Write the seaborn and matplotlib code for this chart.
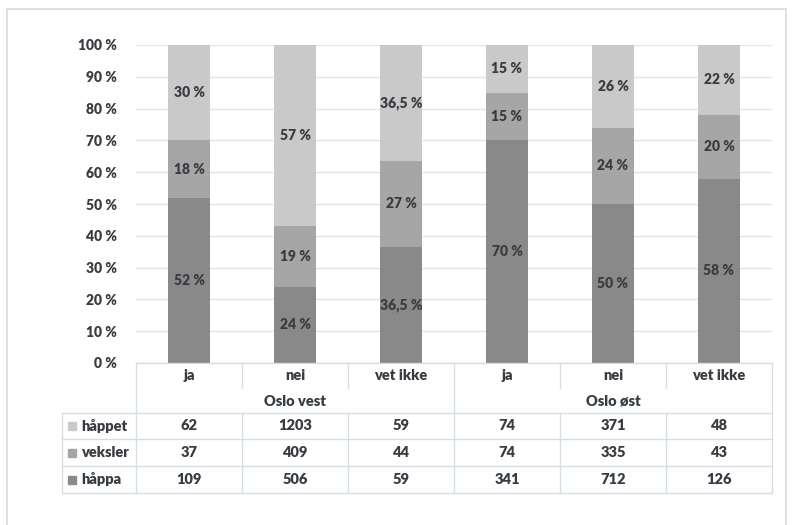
import matplotlib
matplotlib.use("Agg")
import matplotlib.pyplot as plt
import seaborn as sns
import pandas as pd
from matplotlib.patches import Rectangle
from matplotlib.lines import Line2D

# data
groups = ["Oslo vest", "Oslo øst"]
answers = ["ja", "nei", "vet ikke"]
series = ["håppet", "veksler", "håppa"]  # top -> bottom

# percent shares per bar (Oslo vest ja, nei, vet ikke, Oslo øst ja, nei, vet ikke)
pct_happa = [52, 24, 36.5, 70, 50, 58]
pct_veksler = [18, 19, 27, 15, 24, 20]
pct_happet = [30, 57, 36.5, 15, 26, 22]

lbl_happa = ["52 %", "24 %", "36,5 %", "70 %", "50 %", "58 %"]
lbl_veksler = ["18 %", "19 %", "27 %", "15 %", "24 %", "20 %"]
lbl_happet = ["30 %", "57 %", "36,5 %", "15 %", "26 %", "22 %"]

# counts in the data table
n_happet = [62, 1203, 59, 74, 371, 48]
n_veksler = [37, 409, 44, 74, 335, 43]
n_happa = [109, 506, 59, 341, 712, 126]

colors = {"håppa": "#898989", "veksler": "#a6a6a6", "håppet": "#c9c9c9"}
text_col = "#383c41"
line_col = "#d3dee6"
WEIGHT = "heavy"

W, H = 793, 525
sns.set_theme(style="white")
plt.rcParams["font.family"] = ["Lato", "DejaVu Sans"]

fig = plt.figure(figsize=(W / 100, H / 100), dpi=100)

# plot area in pixel coords
x0, x1, ytop, ybot = 136, 772, 45, 363
ax = fig.add_axes([x0 / W, 1 - ybot / H, (x1 - x0) / W, (ybot - ytop) / H])

keys = [f"{g}|{a}" for g in groups for a in answers]
df = pd.DataFrame({
    "key": keys,
    "happa": pct_happa,
    "veksler": pct_veksler,
    "happet": pct_happet,
})
df["lvl2"] = df["happa"] + df["veksler"]
df["lvl3"] = df["lvl2"] + df["happet"]

for col, c in [("lvl3", colors["håppet"]), ("lvl2", colors["veksler"]), ("happa", colors["håppa"])]:
    sns.barplot(data=df, x="key", y=col, order=keys, color=c, width=0.4,
                saturation=1, linewidth=0, ax=ax, zorder=3)

# segment labels
for i in range(len(keys)):
    b = 0
    for v, lab in [(pct_happa[i], lbl_happa[i]), (pct_veksler[i], lbl_veksler[i]),
                   (pct_happet[i], lbl_happet[i])]:
        ax.text(i, b + v / 2, lab, ha="center", va="center", fontsize=10,
                color=text_col, fontweight=WEIGHT, zorder=5)
        b += v

ax.set_ylim(0, 100)
ax.set_xlim(-0.5, len(keys) - 0.5)
ax.set_yticks(range(0, 101, 10))
ax.set_yticklabels([f"{t} %" for t in range(0, 101, 10)], fontsize=10,
                   color=text_col, fontweight=WEIGHT)
ax.tick_params(axis="y", length=0, pad=14)
ax.set_xticks([])
ax.set_xlabel("")
ax.set_ylabel("")
ax.yaxis.grid(True, color="#dde6ee", linewidth=1, zorder=0)
ax.set_axisbelow(True)
for s in ax.spines.values():
    s.set_visible(False)


# helpers in pixel coords
def fx(px):
    return px / W


def fy(py):
    return 1 - py / H


def hline(xa, xb, y):
    fig.add_artist(Line2D([fx(xa), fx(xb)], [fy(y), fy(y)], color=line_col, lw=1))


def vline(x, ya, yb):
    fig.add_artist(Line2D([fx(x), fx(x)], [fy(ya), fy(yb)], color=line_col, lw=1))


def ftext(x, y, s, **kw):
    fig.text(fx(x), fy(y), s, color=text_col, fontweight=WEIGHT, va="center", **kw)


# data table
colw = (x1 - x0) / len(keys)
tl = 62
row_y = [413, 439, 466, 493]
hline(x0, x1, ybot)
for r in row_y:
    hline(tl, x1, r)
vline(tl, row_y[0], row_y[-1])
for j in range(len(keys) + 1):
    xx = x0 + j * colw
    if j in (0, 3, 6):
        vline(xx, ybot, row_y[-1])
    else:
        vline(xx, ybot, 388)
        vline(xx, row_y[0], row_y[-1])

for j, k in enumerate(keys):
    ftext(x0 + (j + 0.5) * colw, 376, k.split("|")[1], ha="center", fontsize=10.5)
for g, name in enumerate(groups):
    ftext(x0 + (g * 3 + 1.5) * colw, 401, name, ha="center", fontsize=10.5)

table_rows = [("håppet", n_happet), ("veksler", n_veksler), ("håppa", n_happa)]
for r, (name, vals) in enumerate(table_rows):
    yc = (row_y[r] + row_y[r + 1]) / 2
    fig.add_artist(Rectangle((fx(68), fy(yc + 4)), 8 / W, 8 / H,
                             color=colors[name], transform=fig.transFigure))
    ftext(81, yc, name, ha="left", fontsize=10.5)
    for j, v in enumerate(vals):
        ftext(x0 + (j + 0.5) * colw, yc, str(v), ha="center", fontsize=10.5)

# outer chart frame
fig.add_artist(Rectangle((fx(7), fy(540)), (786 - 7) / W, (540 - 9) / H,
                         fill=False, edgecolor="#d9d9d9", lw=1.2,
                         transform=fig.transFigure, clip_on=False))

fig.savefig("out.png", dpi=100)
